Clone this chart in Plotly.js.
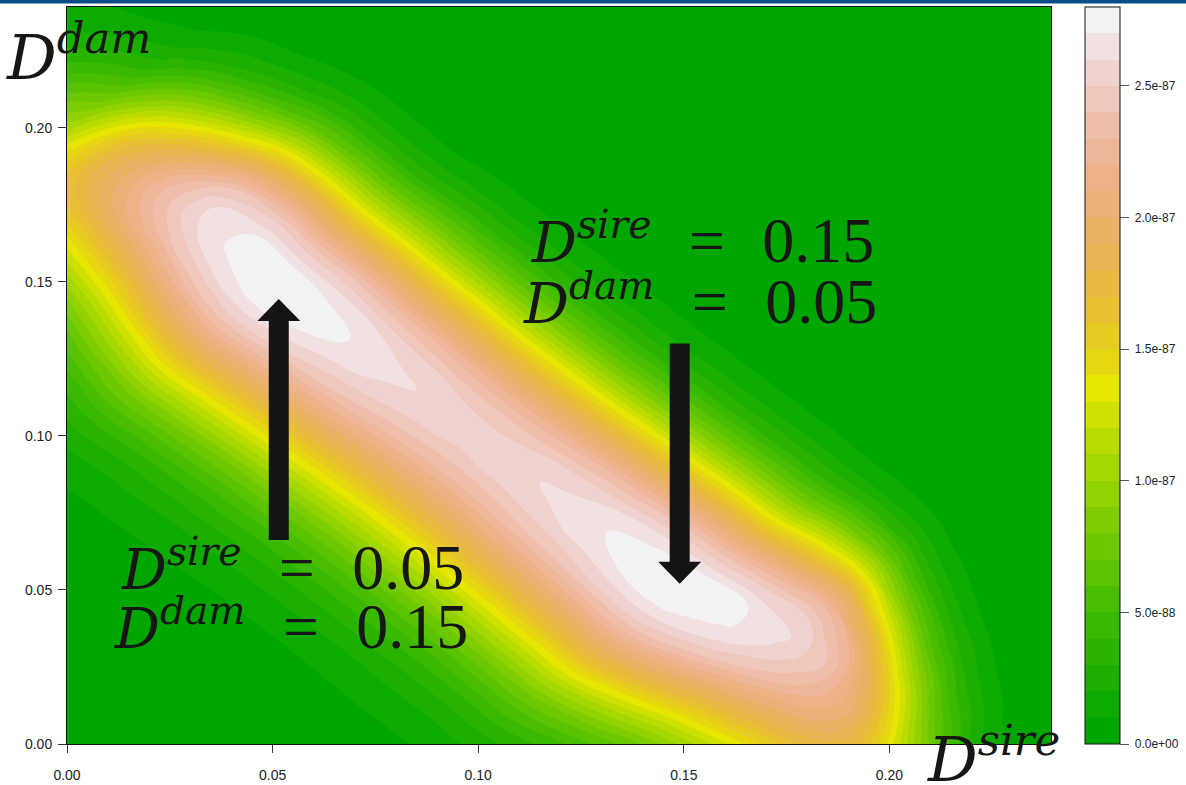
<!DOCTYPE html>
<html>
<head>
<meta charset="utf-8">
<script src="https://cdn.plot.ly/plotly-3.0.1.min.js"></script>
<style>
  html, body { margin: 0; padding: 0; background: #ffffff; }
  #chart { width: 1186px; height: 785px; }
</style>
</head>
<body>
<div id="chart"></div>
<script>
// The surface is tabulated on a grid aligned with its ridge:
// columns follow D_sire - D_dam, rows follow D_sire + D_dam.
const sireMinusDam = [-0.26,-0.24,-0.22,-0.20,-0.18,-0.16,-0.14,-0.12,-0.10,-0.08,-0.06,-0.04,-0.02,0,0.02,0.04,0.06,0.08,0.10,0.12,0.14,0.16,0.18,0.20,0.22,0.24,0.26];
const sirePlusDam = [0.04,0.05,0.06,0.07,0.08,0.09,0.10,0.11,0.12,0.13,0.14,0.15,0.16,0.17,0.18,0.19,0.20,0.21,0.22,0.23,0.24,0.25,0.26,0.27,0.28,0.29,0.30,0.31,0.32];

// Likelihood in units of 1e-88 (one row per sirePlusDam value)
const likelihood = [
  [0,0,0,0,0,0,0,0,0.1,0.1,0.1,0.1,0.1,0.1,0.1,0.1,0.1,0.1,0.1,0,0,0,0,0,0,0,0],
  [0,0,0,0,0,0,0.1,0.1,0.1,0.1,0.1,0.1,0.1,0.1,0.1,0.1,0.1,0.1,0.1,0.1,0.1,0,0,0,0,0,0],
  [0,0.1,0.1,0.1,0.1,0.1,0.1,0.2,0.2,0.2,0.2,0.2,0.2,0.2,0.2,0.2,0.2,0.2,0.2,0.2,0.1,0.1,0.1,0.1,0.1,0.1,0],
  [0.1,0.1,0.1,0.2,0.2,0.2,0.2,0.3,0.4,0.4,0.4,0.4,0.4,0.4,0.4,0.4,0.4,0.4,0.4,0.3,0.2,0.2,0.2,0.2,0.1,0.1,0.1],
  [0.2,0.2,0.3,0.3,0.3,0.4,0.4,0.6,0.8,0.8,0.8,0.8,0.7,0.7,0.7,0.8,0.8,0.8,0.8,0.6,0.4,0.4,0.3,0.3,0.3,0.2,0.2],
  [0.3,0.4,0.5,0.6,0.6,0.7,0.8,1.1,1.4,1.4,1.4,1.3,1.3,1.3,1.3,1.3,1.4,1.4,1.4,1.1,0.8,0.7,0.6,0.6,0.5,0.4,0.3],
  [0.5,0.7,0.8,1.0,1.1,1.2,1.4,1.9,2.4,2.3,2.3,2.2,2.2,2.2,2.2,2.2,2.3,2.3,2.4,1.9,1.4,1.2,1.1,1.0,0.8,0.7,0.5],
  [0.8,1.1,1.4,1.7,1.8,2.0,2.3,3.1,3.8,3.7,3.6,3.6,3.5,3.5,3.5,3.6,3.6,3.7,3.8,3.1,2.3,2.0,1.8,1.7,1.4,1.1,0.9],
  [1.1,1.7,2.2,2.6,2.9,3.2,3.7,4.8,5.8,5.7,5.5,5.4,5.3,5.3,5.3,5.4,5.5,5.7,5.8,4.8,3.7,3.2,2.9,2.6,2.2,1.8,1.3],
  [1.6,2.4,3.4,4.0,4.4,4.9,5.6,7.1,8.3,8.3,8.0,7.8,7.7,7.6,7.7,7.8,8.0,8.3,8.3,7.1,5.6,4.9,4.4,4.0,3.4,2.7,1.8],
  [2.0,3.3,4.7,5.8,6.4,7.1,8.1,10.0,11.5,11.4,11.1,10.8,10.6,10.5,10.6,10.8,11.1,11.4,11.5,10.0,8.1,7.1,6.4,5.8,4.9,3.7,2.1],
  [2.5,4.1,6.2,7.6,8.8,9.8,11.1,13.3,15.1,14.9,14.5,14.2,13.9,13.8,13.9,14.2,14.5,14.9,15.1,13.3,11.1,9.8,8.8,8.0,6.8,4.6,2.3],
  [2.8,4.2,6.8,9.5,11.6,12.8,14.5,17.0,18.8,18.6,18.1,17.7,17.3,17.2,17.3,17.7,18.1,18.6,18.8,17.0,14.5,12.8,11.6,10.5,8.6,5.0,2.2],
  [2.9,4.5,7.6,11.0,14.3,16.0,18.0,20.6,22.4,22.1,21.5,21.1,20.6,20.4,20.6,21.1,21.5,22.1,22.4,20.6,18.0,16.0,14.5,13.1,9.6,4.9,1.8],
  [2.8,4.5,7.8,11.9,16.5,19.1,21.3,23.8,25.3,25.1,24.4,23.8,23.3,23.1,23.3,23.8,24.4,25.1,25.3,23.8,21.3,19.1,17.2,15.1,9.5,4.2,1.3],
  [2.6,4.2,7.4,11.6,17.7,21.3,24.0,26.1,27.3,27.0,26.2,25.7,25.1,24.9,25.1,25.7,26.2,27.0,27.3,26.1,24.0,21.6,19.5,15.3,8.3,3.2,0.9],
  [2.2,3.6,6.6,10.6,17.7,22.3,25.7,27.3,27.9,27.7,26.9,26.3,25.7,25.5,25.7,26.3,26.9,27.7,27.9,27.3,25.7,23.2,20.2,13.7,6.4,2.1,0.5],
  [1.7,3.0,5.6,9.2,16.5,21.7,25.9,27.1,27.0,26.7,26.0,25.4,24.9,24.7,24.9,25.4,26.0,26.7,27.0,27.1,26.2,23.8,18.6,10.8,4.4,1.2,0.3],
  [1.2,2.2,4.3,7.4,14.2,19.4,24.1,25.1,24.4,24.2,23.5,23.0,22.5,22.3,22.5,23.0,23.5,24.2,24.4,25.1,25.2,22.2,15.0,7.5,2.7,0.6,0.1],
  [0.8,1.5,3.1,5.4,11.2,16.0,20.5,21.5,20.5,20.3,19.7,19.3,18.9,18.7,18.9,19.3,19.7,20.3,20.5,21.8,22.6,18.0,10.4,4.6,1.4,0.3,0],
  [0.5,0.9,2.0,3.6,8.1,12.0,15.9,16.7,15.9,15.7,15.3,15.0,14.6,14.5,14.6,15.0,15.3,15.7,15.9,17.4,18.1,12.6,6.3,2.4,0.6,0.1,0],
  [0.3,0.7,1.2,2.2,5.2,8.1,11.1,11.7,11.1,11.1,10.8,10.6,10.3,10.3,10.3,10.6,10.8,11.1,11.2,12.8,12.5,7.5,3.3,1.1,0.2,0,0],
  [0.1,0.4,0.6,1.2,3.0,4.9,6.9,7.2,6.9,7.1,6.9,6.7,6.6,6.5,6.6,6.7,6.9,7.1,7.2,8.2,7.3,3.8,1.4,0.4,0.1,0,0],
  [0.1,0.2,0.3,0.6,1.6,2.6,3.8,3.9,3.7,4.0,3.9,3.8,3.7,3.7,3.7,3.8,3.9,4.0,4.0,4.4,3.6,1.6,0.5,0.1,0,0,0],
  [0,0.1,0.2,0.3,0.7,1.2,1.8,1.8,1.7,1.9,1.9,1.9,1.8,1.8,1.8,1.9,1.9,2.0,1.9,1.9,1.4,0.6,0.2,0,0,0,0],
  [0,0,0.1,0.1,0.3,0.5,0.7,0.7,0.6,0.8,0.8,0.8,0.8,0.8,0.8,0.8,0.8,0.8,0.7,0.7,0.5,0.2,0,0,0,0,0],
  [0,0,0,0,0.1,0.2,0.3,0.2,0.2,0.2,0.3,0.3,0.3,0.3,0.3,0.3,0.3,0.3,0.2,0.2,0.1,0,0,0,0,0,0],
  [0,0,0,0,0,0,0.1,0.1,0.1,0.1,0.1,0.1,0.1,0.1,0.1,0.1,0.1,0.1,0.1,0,0,0,0,0,0,0,0],
  [0,0,0,0,0,0,0,0,0,0,0,0,0,0,0,0,0,0,0,0,0,0,0,0,0,0,0]
];

// Contour levels (same 1e-88 units): 28 bands of width 1
const levelMin = 0;
const levelMax = 28;
const levelStep = 1;

// Axis and key tick labels
const axisTickVals = [0, 0.05, 0.10, 0.15, 0.20];
const axisTickText = ["0.00", "0.05", "0.10", "0.15", "0.20"];
const keyTickVals = [0, 5, 10, 15, 20, 25];
const keyTickText = ["0.0e+00", "5.0e-88", "1.0e-87", "1.5e-87", "2.0e-87", "2.5e-87"];

// ---- palette: R-style terrain colours ----
function hsvToHex(h, s, v) {
  const i = Math.floor(h * 6 + 1e-9);
  const f = h * 6 - i;
  const p = v * (1 - s), q = v * (1 - f * s), t = v * (1 - (1 - f) * s);
  let r, g, b;
  switch (((i % 6) + 6) % 6) {
    case 0: r = v; g = t; b = p; break;
    case 1: r = q; g = v; b = p; break;
    case 2: r = p; g = v; b = t; break;
    case 3: r = p; g = q; b = v; break;
    case 4: r = t; g = p; b = v; break;
    default: r = v; g = p; b = q;
  }
  const hx = x => Math.round(x * 255).toString(16).padStart(2, '0');
  return '#' + hx(r) + hx(g) + hx(b);
}
function terrainColors(n) {
  const k = Math.floor(n / 2);
  const h = [4 / 12, 2 / 12, 0], s = [1, 1, 0], v = [0.65, 0.9, 0.95];
  const out = [];
  for (let i = 0; i < k; i++) {
    const f = k > 1 ? i / (k - 1) : 0;
    out.push(hsvToHex(h[0] + (h[1] - h[0]) * f, s[0] + (s[1] - s[0]) * f, v[0] + (v[1] - v[0]) * f));
  }
  const m = n - k + 1;
  for (let i = 1; i < m; i++) {
    const f = i / (m - 1);
    out.push(hsvToHex(h[1] + (h[2] - h[1]) * f, s[1] + (s[2] - s[1]) * f, v[1] + (v[2] - v[1]) * f));
  }
  return out;
}

const nBands = Math.round((levelMax - levelMin) / levelStep);
const bandColors = terrainColors(nBands);

// contour fill colours: lowest band + one colour per level above it
const contourScale = bandColors.map((c, j) => [j / (nBands - 1), c]);
// stepped scale for the key
const keyScale = [];
bandColors.forEach((c, j) => { keyScale.push([j / nBands, c]); keyScale.push([(j + 1) / nBands, c]); });

// ---- geometry ----
const W = 1186, H = 785;
const M = { l: 67, r: 135, t: 7, b: 41, autoexpand: false };
const plotW = W - M.l - M.r, plotH = H - M.t - M.b;
const xMax = 0.2393, yMax = 0.2392;
const pxPerX = plotW / xMax, pxPerY = plotH / yMax;
const paperX = px => (px - M.l) / plotW;
const paperY = py => (H - M.b - py) / plotH;
const keyLeft = 1085, keyRight = 1120;

// ridge-aligned grid placed on the D_sire / D_dam axes
const carpetX = sirePlusDam.map(s => sireMinusDam.map(d => (s + d) / 2));
const carpetY = sirePlusDam.map(s => sireMinusDam.map(d => (s - d) / 2));
const hiddenAxis = {
  showgrid: false, showline: false, showticklabels: 'none',
  startline: false, endline: false, minorgridcount: 0,
  gridcolor: 'rgba(0,0,0,0)', linecolor: 'rgba(0,0,0,0)',
  tickmode: 'array', tickvals: []
};
const grid = {
  type: 'carpet', carpet: 'ridge',
  a: sireMinusDam, b: sirePlusDam,
  x: carpetX, y: carpetY,
  aaxis: hiddenAxis, baxis: hiddenAxis,
  color: 'rgba(0,0,0,0)', hoverinfo: 'skip'
};

const surface = {
  type: 'contourcarpet', carpet: 'ridge',
  a: sireMinusDam, b: sirePlusDam, z: likelihood,
  autocontour: false,
  contours: { start: levelMin + levelStep, end: levelMax - levelStep, size: levelStep, coloring: 'fill', showlines: false },
  line: { width: 0, smoothing: 1.3 },
  colorscale: contourScale,
  showscale: false
};

// carrier for the colour key
const keyBar = {
  type: 'scatter',
  x: [null], y: [null],
  mode: 'markers',
  showlegend: false,
  hoverinfo: 'skip',
  marker: {
    color: [levelMin], cmin: levelMin, cmax: levelMax,
    colorscale: keyScale, showscale: true,
    colorbar: {
      x: paperX(keyLeft), xanchor: 'left', xpad: 0,
      y: 0.5, yanchor: 'middle', ypad: 0, len: 1, lenmode: 'fraction',
      thickness: keyRight - keyLeft, thicknessmode: 'pixels',
      outlinewidth: 1, outlinecolor: '#111111', borderwidth: 0,
      tickmode: 'array', tickvals: keyTickVals,
      ticktext: keyTickText.map(t => '\u00a0' + t),
      ticks: 'outside', ticklen: 9, tickwidth: 1, tickcolor: '#555555',
      tickfont: { family: 'Liberation Sans, Arial, sans-serif', size: 12, color: '#222222' }
    }
  }
};

// ---- arrows (decoration) ----
const arrowSpecs = [
  { x: 0.0515, from: 0.0662, to: 0.1444 },
  { x: 0.1490, from: 0.1300, to: 0.0520 }
];
const shaftPx = 20, headPx = 43, headLenPx = 22;
function arrowPath(a) {
  const dir = a.to > a.from ? 1 : -1;
  const sw = shaftPx / 2 / pxPerX, hw = headPx / 2 / pxPerX, hl = headLenPx / pxPerY;
  const base = a.to - dir * hl;
  const pts = [
    [a.x - sw, a.from], [a.x - sw, base], [a.x - hw, base], [a.x, a.to],
    [a.x + hw, base], [a.x + sw, base], [a.x + sw, a.from]
  ];
  return 'M' + pts.map(p => p[0].toFixed(5) + ',' + p[1].toFixed(5)).join(' L') + ' Z';
}
const shapes = arrowSpecs.map(a => ({
  type: 'path', xref: 'x', yref: 'y', path: arrowPath(a),
  fillcolor: '#141414', line: { width: 0 }, layer: 'above'
}));

// band separators on the key
for (let k = 1; k < nBands; k++) {
  shapes.push({
    type: 'line', xref: 'paper', yref: 'paper',
    x0: paperX(keyLeft), x1: paperX(keyRight), y0: k / nBands, y1: k / nBands,
    line: { color: '#1a1a1a', width: 1 }
  });
}
// header rule along the top of the page
shapes.push({
  type: 'rect', xref: 'paper', yref: 'paper',
  x0: paperX(0), x1: paperX(W), y0: paperY(3.5), y1: paperY(-1),
  fillcolor: '#0b4c88', line: { width: 0 }
});

// ---- math labels ----
const numFont = { family: 'Liberation Serif, Times New Roman, serif', size: 64, color: '#161616' };
const cornerFont = { family: 'DejaVu Serif, serif', size: 62, color: '#161616' };
const symbol = (name, size) =>
  '<span style="font-family:\'DejaVu Serif\', serif;font-size:' + size + 'px"><i>D</i><sup><i>' + name + '</i></sup></span>';
const eq = '\u00a0\u00a0\u200a=\u00a0\u00a0\u200a';

const annotations = [
  { text: symbol('sire', 56) + eq + '0.15', x: 0.1128, y: 0.1568 },
  { text: symbol('dam', 56) + eq + '0.05', x: 0.1108, y: 0.1370 },
  { text: symbol('sire', 56) + eq + '0.05', x: 0.0132, y: 0.0506 },
  { text: symbol('dam', 56) + eq + '0.15', x: 0.0115, y: 0.0315 }
].map(a => Object.assign({
  xref: 'x', yref: 'y', xanchor: 'left', yanchor: 'bottom', yshift: -15,
  showarrow: false, font: numFont, borderpad: 0, borderwidth: 0
}, a));

annotations.push({
  text: '<i>D</i><sup><i>dam</i></sup>', xref: 'paper', yref: 'paper', x: paperX(6), y: paperY(78),
  xanchor: 'left', yanchor: 'bottom', yshift: -16, showarrow: false,
  font: cornerFont, borderpad: 0, borderwidth: 0
});
annotations.push({
  text: '<i>D</i><sup><i>sire</i></sup>', xref: 'paper', yref: 'paper', x: paperX(927), y: paperY(780),
  xanchor: 'left', yanchor: 'bottom', yshift: -16, showarrow: false,
  font: cornerFont, borderpad: 0, borderwidth: 0
});

const axisCommon = {
  tickmode: 'array', tickvals: axisTickVals, ticktext: axisTickText,
  ticks: 'outside', ticklen: 8, tickwidth: 1, tickcolor: '#333333',
  showline: true, mirror: true, linecolor: '#111111', linewidth: 1,
  showgrid: false, zeroline: false, fixedrange: true,
  tickfont: { family: 'Liberation Sans, Arial, sans-serif', size: 14, color: '#222222' }
};

const layout = {
  width: W, height: H,
  margin: M,
  paper_bgcolor: '#ffffff',
  plot_bgcolor: bandColors[0],
  showlegend: false,
  hovermode: false,
  xaxis: Object.assign({ range: [0, xMax], ticklabelstandoff: 10 }, axisCommon),
  yaxis: Object.assign({ range: [0, yMax], ticklabelstandoff: 3 }, axisCommon),
  shapes: shapes,
  annotations: annotations
};

Plotly.newPlot('chart', [grid, surface, keyBar], layout, { displayModeBar: false, staticPlot: true });
</script>
</body>
</html>
